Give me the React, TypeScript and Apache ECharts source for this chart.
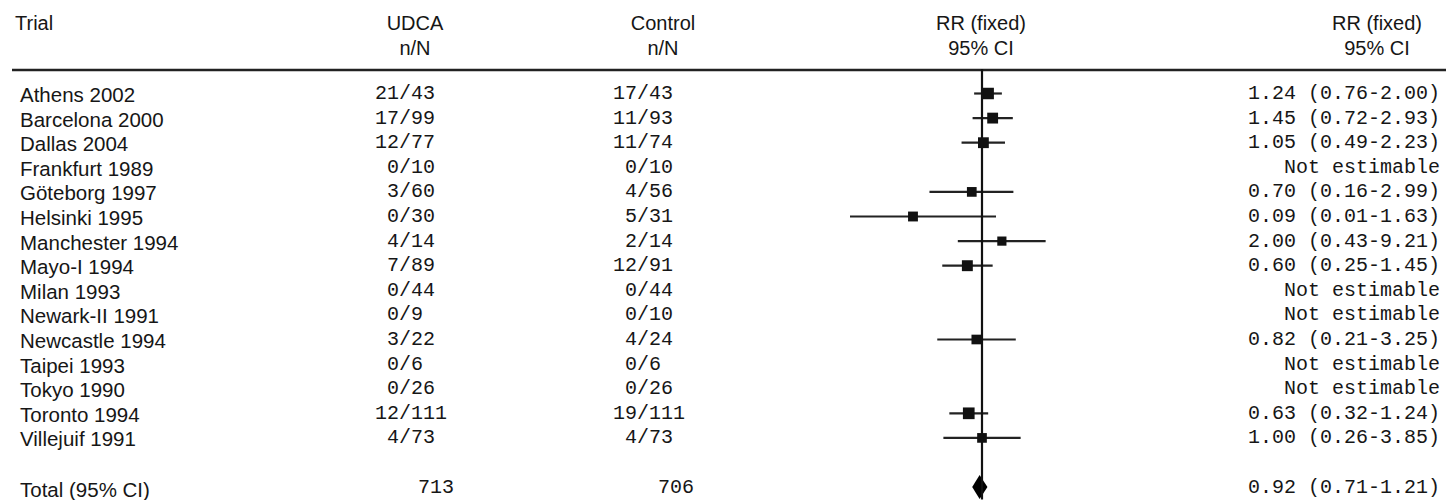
import React, { useEffect, useRef } from "react";
import * as echarts from "echarts";

const trials = [
  "Athens 2002", "Barcelona 2000", "Dallas 2004", "Frankfurt 1989", "Göteborg 1997",
  "Helsinki 1995", "Manchester 1994", "Mayo-I 1994", "Milan 1993", "Newark-II 1991",
  "Newcastle 1994", "Taipei 1993", "Tokyo 1990", "Toronto 1994", "Villejuif 1991",
];
const udcaEvents = [21, 17, 12, 0, 3, 0, 4, 7, 0, 0, 3, 0, 0, 12, 4];
const udcaTotals = [43, 99, 77, 10, 60, 30, 14, 89, 44, 9, 22, 6, 26, 111, 73];
const ctrlEvents = [17, 11, 11, 0, 4, 5, 2, 12, 0, 0, 4, 0, 0, 19, 4];
const ctrlTotals = [43, 93, 74, 10, 56, 31, 14, 91, 44, 10, 24, 6, 26, 111, 73];
const rrEst: (number | null)[] = [1.24, 1.45, 1.05, null, 0.70, 0.09, 2.00, 0.60, null, null, 0.82, null, null, 0.63, 1.00];
const rrLow: (number | null)[] = [0.76, 0.72, 0.49, null, 0.16, 0.01, 0.43, 0.25, null, null, 0.21, null, null, 0.32, 0.26];
const rrHigh: (number | null)[] = [2.00, 2.93, 2.23, null, 2.99, 1.63, 9.21, 1.45, null, null, 3.25, null, null, 1.24, 3.85];
const weights: (number | null)[] = [19.0, 12.7, 12.6, null, 4.6, 5.5, 2.2, 13.3, null, null, 4.3, null, null, 21.3, 4.5];

const totalLabel = "Total (95% CI)";
const totalUdca = 713;
const totalCtrl = 706;
const totalEst = 0.92;
const totalLow = 0.71;
const totalHigh = 1.21;
const totalRow = 16;

const headerCols = [
  { lines: ["Trial"], x: 15, align: "left" },
  { lines: ["UDCA", "n/N"], x: 415, align: "center" },
  { lines: ["Control", "n/N"], x: 663, align: "center" },
  { lines: ["RR (fixed)", "95% CI"], x: 981, align: "center" },
  { lines: ["RR (fixed)", "95% CI"], x: 1377, align: "center" },
];

const SANS = "'Liberation Sans', Arial, Helvetica, sans-serif";
const MONO = "'Liberation Mono', 'Courier New', monospace";
const INK = "#161616";

const fmtCI = (e: number | null, l: number | null, h: number | null) =>
  e == null || l == null || h == null
    ? "Not estimable"
    : `${e.toFixed(2)} (${l.toFixed(2)}-${h.toFixed(2)})`;

export default function App() {
  const ref = useRef<HTMLDivElement>(null);

  useEffect(() => {
    if (!ref.current) return;
    const chart = echarts.init(ref.current, null, { renderer: "svg" });

    const forestData = trials
      .map((_, i) => [rrEst[i], rrLow[i], rrHigh[i], i, weights[i]])
      .filter((d) => d[0] != null);

    const textData = trials.map((_, i) => [1, i]).concat([[1, totalRow]]);

    const txt = (text: string, x: number, y: number, align: string, font: string, size: number) => ({
      type: "text",
      style: {
        text,
        x,
        y,
        fill: INK,
        fontSize: size,
        fontFamily: font,
        align,
        verticalAlign: "middle",
      },
    });

    const graphics: any[] = [];
    headerCols.forEach((c) => {
      c.lines.forEach((t, k) => {
        graphics.push({
          type: "text",
          x: c.x,
          y: 23 + k * 25,
          style: {
            text: t,
            fill: INK,
            fontSize: 20,
            fontFamily: SANS,
            align: c.align,
            verticalAlign: "middle",
          },
        });
      });
    });
    graphics.push({
      type: "line",
      shape: { x1: 12, y1: 70, x2: 1446, y2: 70 },
      style: { stroke: "#222", lineWidth: 2.5 },
    });

    const option: any = {
      animation: false,
      grid: { left: 850, right: 332, top: 68.9, bottom: 0.6 },
      xAxis: { type: "log", logBase: 10, min: 0.01, max: 100, show: false },
      yAxis: { type: "value", min: -1, max: 16.5, inverse: true, show: false },
      graphic: graphics,
      series: [
        {
          type: "custom",
          name: "table",
          silent: true,
          clip: false,
          encode: { x: 0, y: 1 },
          data: textData,
          renderItem: (params: any, api: any) => {
            const row = api.value(1);
            const y = api.coord([1, row])[1];
            const i = params.dataIndex;
            if (row === totalRow) {
              return {
                type: "group",
                children: [
                  txt(totalLabel, 20, y + 2, "left", SANS, 20.5),
                  txt(String(totalUdca), 418, y, "left", MONO, 20),
                  txt(String(totalCtrl), 658, y, "left", MONO, 20),
                  txt(fmtCI(totalEst, totalLow, totalHigh), 1440, y, "right", MONO, 20),
                ],
              };
            }
            return {
              type: "group",
              children: [
                txt(trials[i], 20, y + 1, "left", SANS, 20.5),
                txt(String(udcaEvents[i]), 399, y, "right", MONO, 20),
                txt("/" + udcaTotals[i], 399, y, "left", MONO, 20),
                txt(String(ctrlEvents[i]), 637, y, "right", MONO, 20),
                txt("/" + ctrlTotals[i], 637, y, "left", MONO, 20),
                txt(fmtCI(rrEst[i], rrLow[i], rrHigh[i]), 1440, y, "right", MONO, 20),
              ],
            };
          },
        },
        {
          type: "custom",
          name: "studies",
          silent: true,
          clip: false,
          encode: { x: [0, 1, 2], y: 3 },
          data: forestData,
          markLine: {
            silent: true,
            symbol: "none",
            label: { show: false },
            lineStyle: { color: "#111", width: 2.2, type: "solid" },
            data: [{ xAxis: 1 }],
          },
          renderItem: (params: any, api: any) => {
            const est = api.value(0);
            const lo = api.value(1);
            const hi = api.value(2);
            const row = api.value(3);
            const w = api.value(4);
            const pL = api.coord([lo, row]);
            const pH = api.coord([hi, row]);
            const pE = api.coord([est, row]);
            const s = 8 + 0.8 * Math.sqrt(w);
            return {
              type: "group",
              children: [
                {
                  type: "line",
                  shape: { x1: pL[0], y1: pL[1], x2: pH[0], y2: pH[1] },
                  style: { stroke: "#222", lineWidth: 2.2 },
                },
                {
                  type: "rect",
                  shape: { x: pE[0] - s / 2, y: pE[1] - s / 2, width: s, height: s },
                  style: { fill: "#111" },
                },
              ],
            };
          },
        },
        {
          type: "custom",
          name: "total",
          silent: true,
          clip: false,
          encode: { x: [0, 1, 2], y: 3 },
          data: [[totalEst, totalLow, totalHigh, totalRow]],
          renderItem: (params: any, api: any) => {
            const row = api.value(3);
            const pL = api.coord([api.value(1), row]);
            const pH = api.coord([api.value(2), row]);
            const pE = api.coord([api.value(0), row]);
            const h = 12;
            return {
              type: "polygon",
              shape: {
                points: [
                  [pL[0], pL[1]],
                  [pE[0], pE[1] - h],
                  [pH[0], pH[1]],
                  [pE[0], pE[1] + h],
                ],
              },
              style: { fill: "#000" },
            };
          },
        },
      ],
    };

    chart.setOption(option);
    return () => chart.dispose();
  }, []);

  return (
    <div
      ref={ref}
      style={{ position: "fixed", left: 0, top: 0, width: 1446, height: 500, background: "#fff" }}
    />
  );
}
